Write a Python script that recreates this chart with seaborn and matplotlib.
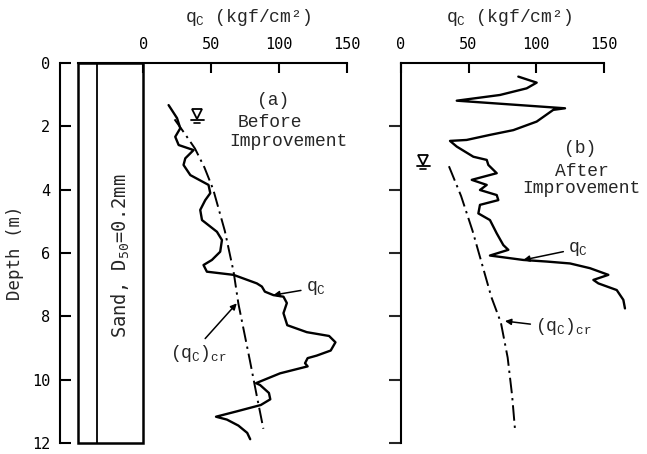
import numpy as np
import pandas as pd
import matplotlib
matplotlib.use("Agg")
import matplotlib.pyplot as plt
import matplotlib.transforms as mtransforms
from matplotlib.patches import Rectangle
import seaborn as sns

# values: cone resistance qc (kgf/cm2) against depth (m)

# (a) before improvement
qc_before = [18.6, 24.8, 27.2, 23.5, 26.0, 37.0, 30.9, 29.6, 34.6, 48.0,
             49.3, 45.6, 41.9, 43.2, 54.2, 57.9, 56.6, 50.5, 44.3, 46.8,
             66.4, 83.6, 87.3, 89.5, 95.8, 103.2, 105.7, 103.2, 106.0, 120.4,
             136.8, 141.5, 138.0, 127.7, 121.0, 119.1, 121.0, 100.7, 83.0, 86.0,
             92.5, 93.5, 86.5, 68.9, 53.5, 61.5, 70.0, 76.5, 78.7]
depth_before = [1.33, 1.74, 2.06, 2.33, 2.59, 2.75, 3.01, 3.22, 3.54, 3.85,
                4.11, 4.33, 4.64, 4.96, 5.33, 5.59, 5.96, 6.22, 6.38, 6.59,
                6.69, 6.96, 7.06, 7.22, 7.33, 7.38, 7.58, 7.90, 8.28, 8.50,
                8.62, 8.82, 9.08, 9.24, 9.32, 9.48, 9.58, 9.80, 10.11, 10.17,
                10.42, 10.62, 10.80, 11.00, 11.17, 11.26, 11.45, 11.68, 11.88]

crit_before = [23.0, 30.0, 38.0, 45.0, 51.5, 60.0, 66.5, 70.0, 78.5, 83.5, 88.4]
crit_depth_before = [1.78, 2.2, 2.7, 3.3, 4.0, 5.3, 6.6, 7.6, 9.4, 10.5, 11.55]

# (b) after improvement
qc_after = [86.9, 100.5, 93.1, 73.3, 41.3, 121.5, 112.8, 100.5, 83.2, 65.9,
            48.6, 36.3, 41.3, 53.6, 63.5, 64.7, 70.9, 52.4, 63.5, 58.5,
            70.9, 72.1, 58.5, 57.3, 65.9, 70.9, 75.8, 79.5, 65.9, 90.6,
            107.9, 125.2, 140.0, 153.6, 142.5, 146.2, 159.8, 164.7, 165.9]
depth_after = [0.43, 0.62, 0.80, 1.01, 1.19, 1.43, 1.48, 1.85, 2.12, 2.27,
               2.43, 2.46, 2.64, 2.96, 3.06, 3.22, 3.48, 3.69, 3.85, 4.01,
               4.17, 4.33, 4.48, 4.75, 4.96, 5.38, 5.75, 5.90, 6.08, 6.22,
               6.27, 6.33, 6.48, 6.69, 6.85, 6.96, 7.17, 7.48, 7.75]

crit_after = [35.5, 44.5, 53.0, 61.0, 67.0, 74.0, 79.0, 82.3, 84.5]
crit_depth_after = [3.26, 4.2, 5.3, 6.5, 7.4, 8.2, 9.3, 10.5, 11.6]

qc_ticks = [0, 50, 100, 150]
depth_ticks = [0, 2, 4, 6, 8, 10, 12]

sns.set_style("white")
plt.rcParams['font.family'] = ['DejaVu Sans Mono', 'DejaVu Sans']
mono = ['Liberation Mono', 'DejaVu Sans Mono']
dashdot = (0, (8, 2.5, 1.2, 2.5))

fig = plt.figure(figsize=(6.47, 4.54), dpi=100)
ax_a = fig.add_axes([77.5 / 647, 11 / 454, 269.5 / 647, 380 / 454])
ax_b = fig.add_axes([401 / 647, 11 / 454, 229.5 / 647, 380 / 454])

solid = dict(color='black', lw=1.7, solid_joinstyle='round', solid_capstyle='round')
sns.lineplot(x=qc_before, y=depth_before, sort=False, estimator=None, ax=ax_a, **solid)
sns.lineplot(x=crit_before, y=crit_depth_before, sort=False, estimator=None,
             color='black', lw=1.4, linestyle=dashdot, ax=ax_a)
sns.lineplot(x=qc_after, y=depth_after, sort=False, estimator=None, ax=ax_b, **solid)
sns.lineplot(x=crit_after, y=crit_depth_after, sort=False, estimator=None,
             color='black', lw=1.4, linestyle=dashdot, ax=ax_b)

for ax in (ax_a, ax_b):
    ax.set_ylim(12, 0)
    ax.xaxis.tick_top()
    ax.set_xticks(qc_ticks)
    ax.tick_params(axis='x', direction='in', length=7, width=1.5, pad=8,
                   labelsize=11, top=True, bottom=False, colors='black')
    ax.spines['bottom'].set_visible(False)
    ax.spines['right'].set_visible(False)
    for s in ('top', 'left'):
        ax.spines[s].set_linewidth(1.5)
        ax.spines[s].set_color('black')
    ax.set_xlabel('')
    ax.set_ylabel('')

# (a) : soil column and depth axis
ax_a.set_xlim(-48.5, 150)
ax_a.spines['left'].set_position(('outward', 12.5))
ax_a.set_yticks(depth_ticks)
ax_a.tick_params(axis='y', direction='in', length=8, width=1.5, pad=7,
                 labelsize=11, left=True, colors='black')
ax_a.set_ylabel('Depth (m)', fontsize=12.5, labelpad=6)

ax_a.add_patch(Rectangle((-48.5, 0), 48.5, 12, fill=False, lw=1.8,
                         ec='black', clip_on=False, zorder=3))
ax_a.axvline(-33.9, color='black', lw=1.3)
ax_a.text(-16.5, 6.09, 'Sand, D$\\mathregular{_{50}}$=0.2mm', rotation=90,
          ha='center', va='center', fontsize=13.5)

# (b) : depth ticks only
ax_b.set_xlim(0, 170)
ax_b.spines['top'].set_bounds(0, 150)
ax_b.set_yticks(depth_ticks[1:])
ax_b.tick_params(axis='y', direction='out', length=8.5, width=1.5,
                 left=True, labelleft=False)

# top axis titles
for ax, xc in ((ax_a, 77), (ax_b, 80)):
    tr = mtransforms.blended_transform_factory(ax.transData, fig.transFigure)
    ax.text(xc, 0.962, 'q$\\mathregular{_C}$ (kgf/cm²)', transform=tr,
            ha='center', va='center', fontsize=13, family=mono)


def water_table(ax, x, d, w):
    ax.plot([x], [d - 0.2], marker='v', ms=7.5, mfc='white', mec='black',
            mew=1.3, clip_on=False)
    ax.plot([x - w, x + w], [d, d], color='black', lw=1.3)
    ax.plot([x - w * 0.45, x + w * 0.45], [d + 0.1, d + 0.1], color='black', lw=1.2)


water_table(ax_a, 39.8, 1.8, 5.0)
water_table(ax_b, 16.5, 3.25, 5.0)

# panel labels
ax_a.text(95.7, 1.17, '(a)', ha='center', va='center', fontsize=13, family=mono)
ax_a.text(93.3, 1.88, 'Before', ha='center', va='center', fontsize=13, family=mono)
ax_a.text(106.8, 2.48, 'Improvement', ha='center', va='center', fontsize=13, family=mono)
ax_b.text(132.6, 2.69, '(b)', ha='center', va='center', fontsize=13, family=mono)
ax_b.text(133.8, 3.43, 'After', ha='center', va='center', fontsize=13, family=mono)
ax_b.text(133.8, 3.96, 'Improvement', ha='center', va='center', fontsize=13, family=mono)

arrow = dict(arrowstyle='-|>', color='black', lw=1.1, mutation_scale=9,
             shrinkA=1, shrinkB=0)
qc_lbl = 'q$\\mathregular{_C}$'
cr_lbl = '(q$\\mathregular{_C}$)$\\mathregular{_{cr}}$'

ax_a.annotate(qc_lbl, xy=(95.7, 7.33), xytext=(119.5, 7.1), ha='left', va='center',
              fontsize=13, family=mono, arrowprops=dict(arrow, relpos=(0, 0.4)))
ax_a.annotate(cr_lbl, xy=(68.8, 7.59), xytext=(40.6, 9.17), ha='center', va='center',
              fontsize=13, family=mono, arrowprops=dict(arrow, relpos=(0.55, 1.0)))
ax_b.annotate(qc_lbl, xy=(90.6, 6.22), xytext=(123.7, 5.87), ha='left', va='center',
              fontsize=13, family=mono, arrowprops=dict(arrow, relpos=(0, 0.4)))
ax_b.annotate(cr_lbl, xy=(77.0, 8.15), xytext=(99.3, 8.33), ha='left', va='center',
              fontsize=13, family=mono, arrowprops=dict(arrow, relpos=(0, 0.6)))

fig.savefig('out.png', dpi=100)
